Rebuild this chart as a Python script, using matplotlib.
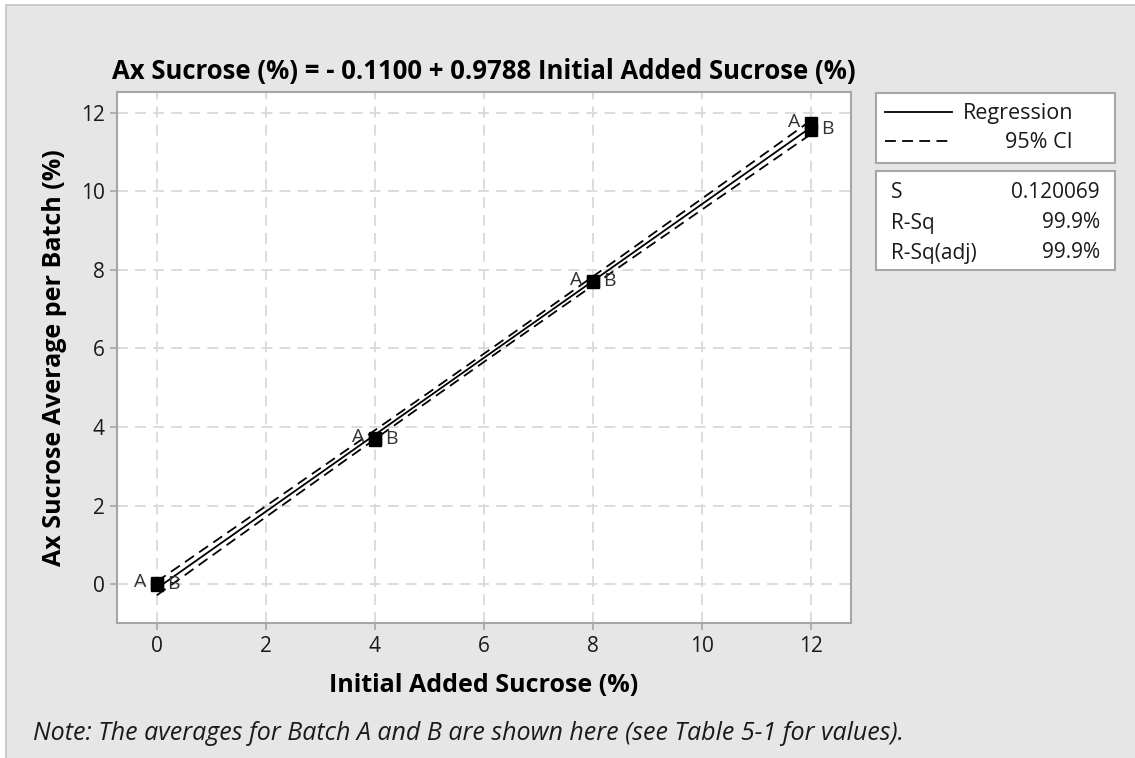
import numpy as np
import matplotlib
matplotlib.use("Agg")
import matplotlib.pyplot as plt
from matplotlib.patches import Rectangle
from matplotlib.lines import Line2D

plt.rcParams['font.family'] = ['Open Sans', 'DejaVu Sans']

# ---- data ----
x_added = [0, 4, 8, 12]
batch_a = [0.02, 3.72, 7.72, 11.74]
batch_b = [-0.02, 3.66, 7.68, 11.56]
b0, b1 = -0.1100, 0.9788
s_val = 0.120069
rsq = "99.9%"
rsq_adj = "99.9%"
t_crit = 2.447  # t(0.975, 6)
xticks = [0, 2, 4, 6, 8, 10, 12]
yticks = [0, 2, 4, 6, 8, 10, 12]

W, H = 1135, 758
fig = plt.figure(figsize=(W / 100, H / 100), dpi=100)
fig.patch.set_facecolor('white')

bg = fig.add_axes([0, 0, 1, 1], zorder=0)
bg.set_xlim(0, W)
bg.set_ylim(H, 0)
bg.axis('off')
bg.add_patch(Rectangle((6, 5), W, H, facecolor='#e6e6e6', edgecolor='#c4c4c4', lw=1.2))

L, R, T, B = 117, 851, 92, 623
ax = fig.add_axes([L / W, (H - B) / H, (R - L) / W, (B - T) / H], zorder=1)
ax.set_facecolor('white')
ax.set_xlim(-0.73, 12.73)
ax.set_ylim(-0.99, 12.53)
ax.set_xticks(xticks)
ax.set_yticks(yticks)
ax.grid(True, color='#d9d9d9', linestyle=(0, (6, 4)), lw=1.3)
ax.set_axisbelow(True)
for sp in ax.spines.values():
    sp.set_color('#a6a6a6')
    sp.set_linewidth(1.5)
ax.tick_params(axis='both', colors='#a6a6a6', length=5, width=1.2, labelsize=15,
               labelcolor='#1a1a1a', pad=4)

xa = np.array(x_added * 2, dtype=float)
n = len(xa)
xbar = xa.mean()
sxx = ((xa - xbar) ** 2).sum()
xl = np.linspace(0, 12, 200)
yl = b0 + b1 * xl
hw = t_crit * s_val * np.sqrt(1.0 / n + (xl - xbar) ** 2 / sxx)
ax.plot(xl, yl, color='black', lw=1.3, zorder=3)
ax.plot(xl, yl + hw, color='black', lw=1.3, linestyle=(0, (6, 3.5)), zorder=3)
ax.plot(xl, yl - hw, color='black', lw=1.3, linestyle=(0, (6, 3.5)), zorder=3)

ax.plot(x_added, batch_a, 's', color='black', ms=8.5, zorder=4)
ax.plot(x_added, batch_b, 's', color='black', ms=8.5, zorder=4)
for xv, ya_, yb_ in zip(x_added, batch_a, batch_b):
    ax.annotate('A', (xv, ya_), xytext=(-12, 1), textcoords='offset points',
                ha='center', va='center', fontsize=14, color='#333333', zorder=5)
    ax.annotate('B', (xv, yb_), xytext=(12, 1), textcoords='offset points',
                ha='center', va='center', fontsize=14, color='#333333', zorder=5)

ax.set_xlabel('Initial Added Sucrose (%)', fontsize=18, fontweight='bold', labelpad=12)
ax.set_ylabel('Ax Sucrose Average per Batch (%)', fontsize=18, fontweight='bold', labelpad=10)
ax.set_title('Ax Sucrose (%) = - 0.1100 + 0.9788 Initial Added Sucrose (%)',
             fontsize=18.5, fontweight='bold', pad=9)

bg.add_patch(Rectangle((876, 93), 239, 70, facecolor='white', edgecolor='#a6a6a6', lw=1.5))
bg.add_line(Line2D([885, 952], [112, 112], color='black', lw=1.3))
bg.add_line(Line2D([885, 952], [141, 141], color='black', lw=1.3, linestyle=(0, (6, 3.5))))
bg.text(1073, 114, 'Regression', ha='right', va='center', fontsize=15.5, color='#1a1a1a')
bg.text(1073, 143, '95% CI', ha='right', va='center', fontsize=15.5, color='#1a1a1a')

bg.add_patch(Rectangle((876, 171), 239, 99, facecolor='white', edgecolor='#a6a6a6', lw=1.5))
rows = [('S', f'{s_val:.6f}', 192), ('R-Sq', rsq, 223), ('R-Sq(adj)', rsq_adj, 253)]
for lab, val, yy in rows:
    bg.text(891, yy, lab, ha='left', va='center', fontsize=15, color='#1a1a1a')
    bg.text(1100, yy, val, ha='right', va='center', fontsize=15, color='#1a1a1a')

bg.text(33, 733, 'Note: The averages for Batch A and B are shown here (see Table 5-1 for values).',
        ha='left', va='center', fontsize=18, style='italic', color='#1a1a1a')

fig.savefig('out.png', dpi=100)
